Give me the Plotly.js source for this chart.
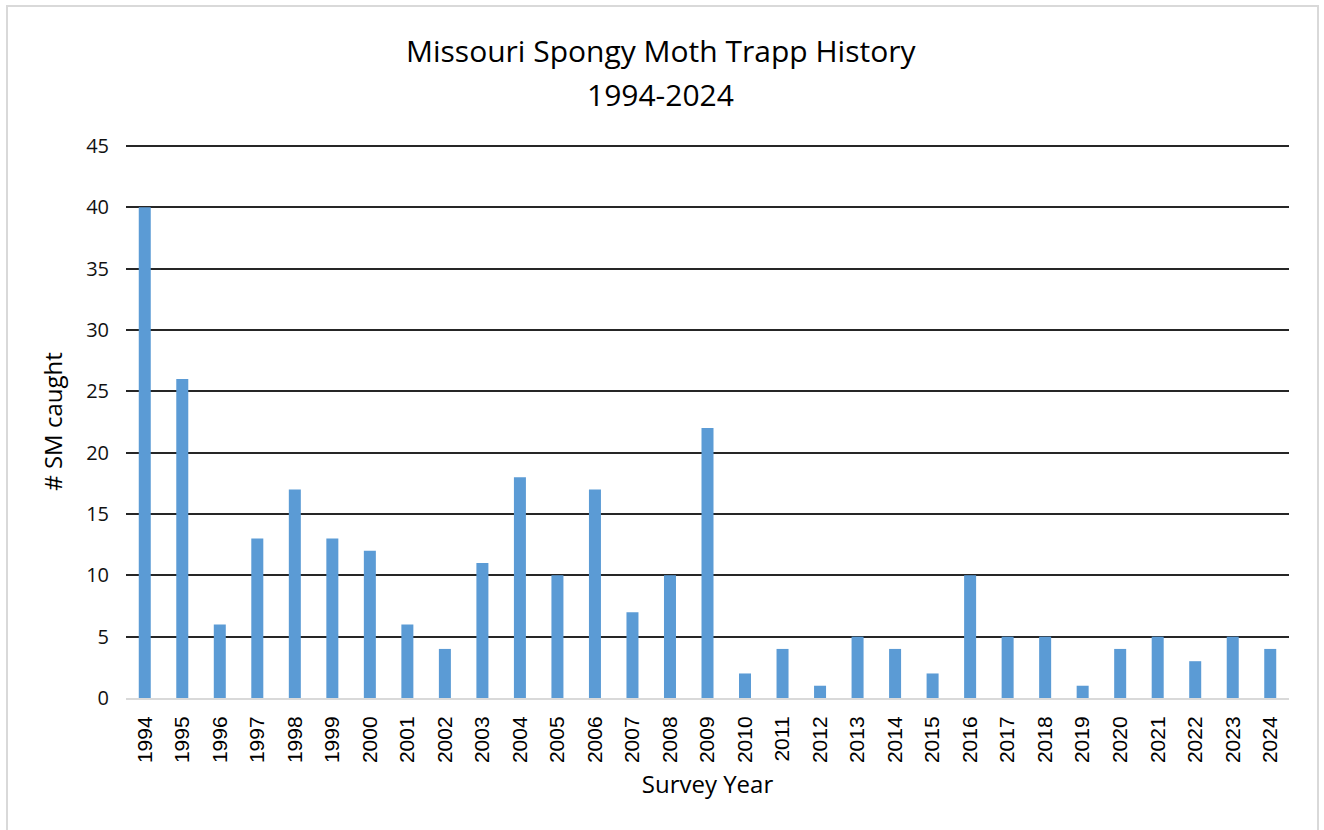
<!DOCTYPE html>
<html>
<head>
<meta charset="utf-8">
<script src="https://cdn.plot.ly/plotly-3.0.1.min.js"></script>
<style>
html,body{margin:0;padding:0;background:#fff;}
#wrap{position:relative;width:1324px;height:830px;overflow:hidden;}
#chart{position:absolute;left:0;top:0;width:1324px;height:830px;}
#frame{position:absolute;left:6px;top:5px;width:1309px;height:840px;border:2px solid #d9d9d9;pointer-events:none;}
</style>
</head>
<body>
<div id="wrap"><div id="chart"></div><div id="frame"></div></div>
<script>
const years = ["1994","1995","1996","1997","1998","1999","2000","2001","2002","2003","2004","2005","2006","2007","2008","2009","2010","2011","2012","2013","2014","2015","2016","2017","2018","2019","2020","2021","2022","2023","2024"];
const caught = [40,26,6,13,17,13,12,6,4,11,18,10,17,7,10,22,2,4,1,5,4,2,10,5,5,1,4,5,3,5,4];
const yTicks = [0,5,10,15,20,25,30,35,40,45];
const titleLines = ['Missouri Spongy Moth Trapp History', '1994-2024'];

const trace = {
  type: 'bar',
  x: years,
  y: caught,
  marker: {color: '#5b9bd5'},
  hoverinfo: 'x+y'
};

const titleFont = {family: 'Open Sans, Noto Sans, sans-serif', size: 30, color: '#000'};

const layout = {
  width: 1324,
  height: 830,
  margin: {l: 126, r: 35, t: 145, b: 132},
  paper_bgcolor: '#ffffff',
  plot_bgcolor: '#ffffff',
  bargap: 0.68,
  showlegend: false,
  annotations: [
    {text: titleLines[0], xref: 'paper', yref: 'paper', x: 0.46, y: (698 - 50) / 553, xanchor: 'center', yanchor: 'middle', showarrow: false, font: titleFont},
    {text: titleLines[1], xref: 'paper', yref: 'paper', x: 0.46, y: (698 - 95) / 553, xanchor: 'center', yanchor: 'middle', showarrow: false, font: titleFont}
  ],
  shapes: [
    {type: 'line', xref: 'paper', yref: 'y', x0: 0, x1: 1, y0: yTicks[yTicks.length - 1], y1: yTicks[yTicks.length - 1], line: {color: '#262626', width: 2}}
  ],
  xaxis: {
    type: 'category',
    tickangle: -90,
    tickfont: {family: 'Liberation Sans, Arial, sans-serif', size: 21, color: '#000'},
    showgrid: false,
    showline: true,
    linecolor: '#d9d9d9',
    linewidth: 2,
    ticks: '',
    ticklabelstandoff: 8,
    zeroline: false,
    title: {text: 'Survey Year', font: {family: 'Open Sans, Noto Sans, sans-serif', size: 24, color: '#000'}, standoff: 14}
  },
  yaxis: {
    range: [0, 45.08],
    tickvals: yTicks,
    ticktext: yTicks.map(String),
    tickfont: {family: 'Open Sans, Noto Sans, sans-serif', size: 20, color: '#111'},
    showgrid: true,
    gridcolor: '#262626',
    gridwidth: 2,
    zeroline: false,
    showline: false,
    ticks: '',
    ticklen: 0,
    ticklabelstandoff: 16,
    title: {text: '# SM caught', font: {family: 'Open Sans, Noto Sans, sans-serif', size: 24, color: '#000'}, standoff: 16}
  }
};

Plotly.newPlot('chart', [trace], layout, {displayModeBar: false, staticPlot: true});
</script>
</body>
</html>
